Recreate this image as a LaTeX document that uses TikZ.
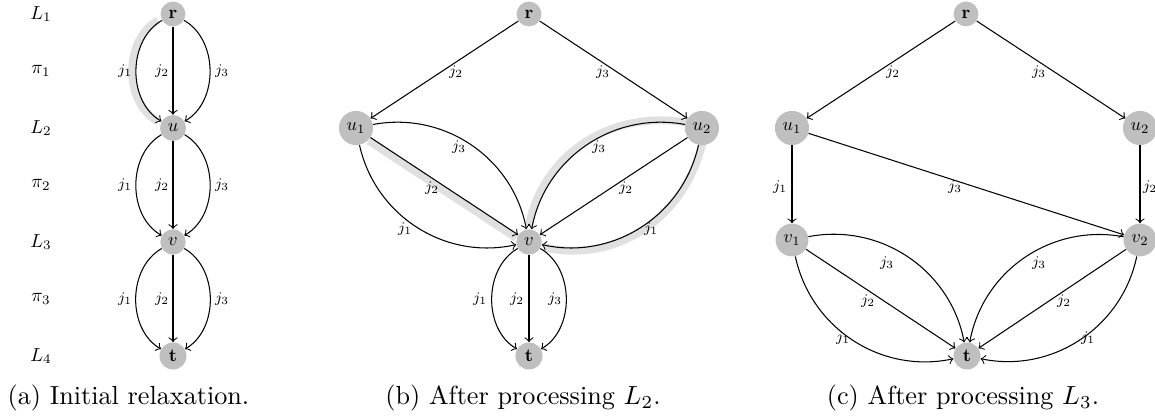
\documentclass[tikz,border=0pt]{standalone}
\usetikzlibrary{backgrounds}
\begin{document}
\begin{tikzpicture}[x=0.382pt,y=0.382pt,
  vtx/.style={circle, fill=black!25, inner sep=2.5pt, scale=0.7},
  lab/.style={font=\footnotesize, inner sep=0pt, scale=0.7},
  side/.style={scale=0.72},
  capt/.style={font=\fontsize{10}{12}\selectfont, anchor=base, inner sep=0pt},
  hl/.style={line width=3pt, black!12},
  >=to]
\useasboundingbox (0,0) rectangle (1155,418);
\clip (0,0) rectangle (1155,418);

% ---------- (a) ----------
\node[vtx] (a1) at (173,404) {$\mathbf{r}$};
\node[vtx] (a2) at (173,290) {$u$};
\node[vtx] (a3) at (173,176) {$v$};
\node[vtx] (a4) at (173,62) {$\mathbf{t}$};
\node[side] (aL1) at (41,404) {$L_1$};
\node[side] (aP1) at (41,347) {$\pi_1$};
\node[side] (aL2) at (41,290) {$L_2$};
\node[side] (aP2) at (41,233) {$\pi_2$};
\node[side] (aL3) at (41,176) {$L_3$};
\node[side] (aP3) at (41,119) {$\pi_3$};
\node[side] (aL4) at (41,62) {$L_4$};
\begin{scope}[on background layer]
  \draw[hl, transform canvas={xshift=-1.5pt}] (a1) to[bend right=60] (a2);
\end{scope}
\draw[->] (a1) to[bend right=60] (a2) node[lab] at (125,347) {$j_1$};
\draw[->] (a1) -- (a2) node[lab] at (162,347) {$j_2$};
\draw[->] (a1) to[bend left=60] (a2) node[lab] at (222,347) {$j_3$};
\draw[->] (a2) to[bend right=60] (a3) node[lab] at (125,233) {$j_1$};
\draw[->] (a2) -- (a3) node[lab] at (162,233) {$j_2$};
\draw[->] (a2) to[bend left=60] (a3) node[lab] at (222,233) {$j_3$};
\draw[->] (a3) to[bend right=60] (a4) node[lab] at (125,119) {$j_1$};
\draw[->] (a3) -- (a4) node[lab] at (162,119) {$j_2$};
\draw[->] (a3) to[bend left=60] (a4) node[lab] at (222,119) {$j_3$};
\node[capt] (capa) at (128.5,13) {(a) Initial relaxation.};

% ---------- (b) ----------
\node[vtx] (b1) at (529,404) {$\mathbf{r}$};
\node[vtx] (bu1) at (356,290) {$u_1$};
\node[vtx] (bu2) at (702,290) {$u_2$};
\node[vtx] (bv) at (529,176) {$v$};
\node[vtx] (bt) at (529,62) {$\mathbf{t}$};
\begin{scope}[on background layer]
  \draw[hl, transform canvas={shift={(-0.75pt,-1.15pt)}}] (bu1) -- (bv);
  \draw[hl, shorten <=-3pt, transform canvas={shift={(-1.1pt,1.1pt)}}] (bu2) to[bend right=45] (bv);
  \draw[hl, shorten <=-3pt, transform canvas={shift={(1.1pt,-1.1pt)}}] (bu2) to[bend left=45] (bv);
\end{scope}
\draw[->] (b1) -- (bu1) node[lab] at (456,346) {$j_2$};
\draw[->] (b1) -- (bu2) node[lab] at (603,346) {$j_3$};
\draw[->] (bu1) to[bend left=45] (bv) node[lab] at (459,271) {$j_3$};
\draw[->] (bu1) -- (bv) node[lab] at (432,230) {$j_2$};
\draw[->] (bu1) to[bend right=45] (bv) node[lab] at (405,189) {$j_1$};
\draw[->] (bu2) to[bend right=45] (bv) node[lab] at (599,271) {$j_3$};
\draw[->] (bu2) -- (bv) node[lab] at (626,230) {$j_2$};
\draw[->] (bu2) to[bend left=45] (bv) node[lab] at (651,189) {$j_1$};
\draw[->] (bv) to[bend right=60] (bt) node[lab] at (480,119) {$j_1$};
\draw[->] (bv) -- (bt) node[lab] at (517,119) {$j_2$};
\draw[->] (bv) to[bend left=60] (bt) node[lab] at (555,119) {$j_3$};
\node[capt] (capb) at (523,13.5) {(b) After processing $L_2$.};

% ---------- (c) ----------
\node[vtx] (c1) at (966,404) {$\mathbf{r}$};
\node[vtx] (cu1) at (792,290) {$u_1$};
\node[vtx] (cu2) at (1140,290) {$u_2$};
\node[vtx] (cv1) at (792,178) {$v_1$};
\node[vtx] (cv2) at (1140,178) {$v_2$};
\node[vtx] (ct) at (967,62) {$\mathbf{t}$};
\draw[->] (c1) -- (cu1) node[lab] at (893,346) {$j_2$};
\draw[->] (c1) -- (cu2) node[lab] at (1039,346) {$j_3$};
\draw[->] (cu1) -- (cv1) node[lab] at (780,231) {$j_1$};
\draw[->] (cu2) -- (cv2) node[lab] at (1150,231) {$j_2$};
\draw[->] (cu1) -- (cv2) node[lab] at (955,231) {$j_3$};
\draw[->] (cv1) to[bend left=45] (ct) node[lab] at (887,155) {$j_3$};
\draw[->] (cv1) -- (ct) node[lab] at (868,117) {$j_2$};
\draw[->] (cv1) to[bend right=45] (ct) node[lab] at (843,80) {$j_1$};
\draw[->] (cv2) to[bend right=45] (ct) node[lab] at (1039,155) {$j_3$};
\draw[->] (cv2) -- (ct) node[lab] at (1064,117) {$j_2$};
\draw[->] (cv2) to[bend left=45] (ct) node[lab] at (1088,80) {$j_1$};
\node[capt] (capc) at (963,13.5) {(c) After processing $L_3$.};
\end{tikzpicture}
\end{document}
